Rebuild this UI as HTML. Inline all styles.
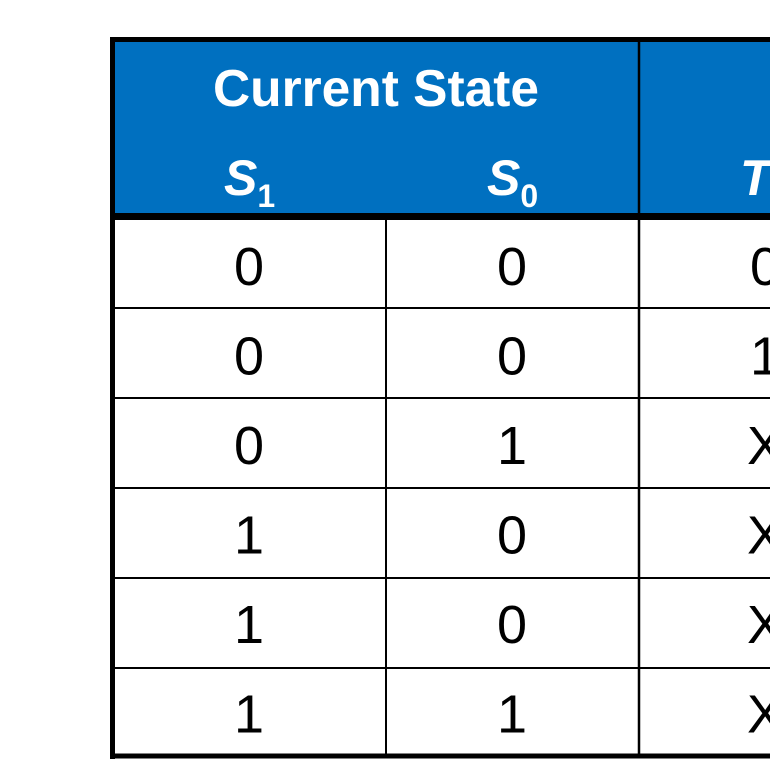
<!DOCTYPE html>
<html><head><meta charset="utf-8"><style>
html,body{margin:0;padding:0;background:#fff;width:770px;height:779px;overflow:hidden}
svg{display:block}
text{font-family:"Liberation Sans",sans-serif}
</style></head><body>
<svg width="770" height="779" viewBox="0 0 770 779">
<rect x="112" y="39" width="700" height="176" fill="#0070C0"/>
<text x="376" y="106" fill="#fff" font-size="52" font-weight="bold" text-anchor="middle" textLength="326" lengthAdjust="spacingAndGlyphs">Current State</text>
<g fill="#fff" font-weight="bold" font-style="italic">
<text x="224" y="195" font-size="50">S<tspan font-size="32" dy="12" font-style="normal">1</tspan></text>
<text x="487" y="195" font-size="50">S<tspan font-size="32" dy="12" font-style="normal">0</tspan></text>
<text x="740" y="195" font-size="50">T<tspan font-size="32" dy="12" font-style="normal">1</tspan></text>
</g>
<g id="rows"></g>
<g stroke="#000">
<line x1="386" y1="216" x2="386" y2="757" stroke-width="2"/>
<line x1="639" y1="39" x2="639" y2="757" stroke-width="2.5"/>
<line x1="110" y1="39.5" x2="770" y2="39.5" stroke-width="5"/>
<line x1="112.5" y1="37" x2="112.5" y2="759" stroke-width="5"/>
<line x1="110" y1="216.5" x2="770" y2="216.5" stroke-width="7"/>
<line x1="110" y1="756" x2="770" y2="756" stroke-width="5"/>
<line x1="112" y1="308" x2="770" y2="308" stroke-width="2"/>
<line x1="112" y1="398" x2="770" y2="398" stroke-width="2"/>
<line x1="112" y1="488" x2="770" y2="488" stroke-width="2"/>
<line x1="112" y1="578" x2="770" y2="578" stroke-width="2"/>
<line x1="112" y1="668" x2="770" y2="668" stroke-width="2"/>
</g>
</svg>
<script>
const s1 = ["0","0","0","1","1","1"];
const s0 = ["0","0","1","0","0","1"];
const t1 = ["0","1","X","X","X","X"];
const g = document.getElementById('rows');
const cols = [s1, s0, t1];
const centers = [249, 512, 765];
const rowTop = 220, rowH = 89.5;
cols.forEach((col, ci) => {
  col.forEach((v, ri) => {
    const t = document.createElementNS('http://www.w3.org/2000/svg', 'text');
    t.setAttribute('x', centers[ci]);
    t.setAttribute('y', rowTop + ri * rowH + 65);
    t.setAttribute('font-size', '54');
    t.setAttribute('text-anchor', 'middle');
    t.setAttribute('fill', '#000');
    t.textContent = v;
    
    
    g.appendChild(t);
  });
});
</script>
</body></html>
